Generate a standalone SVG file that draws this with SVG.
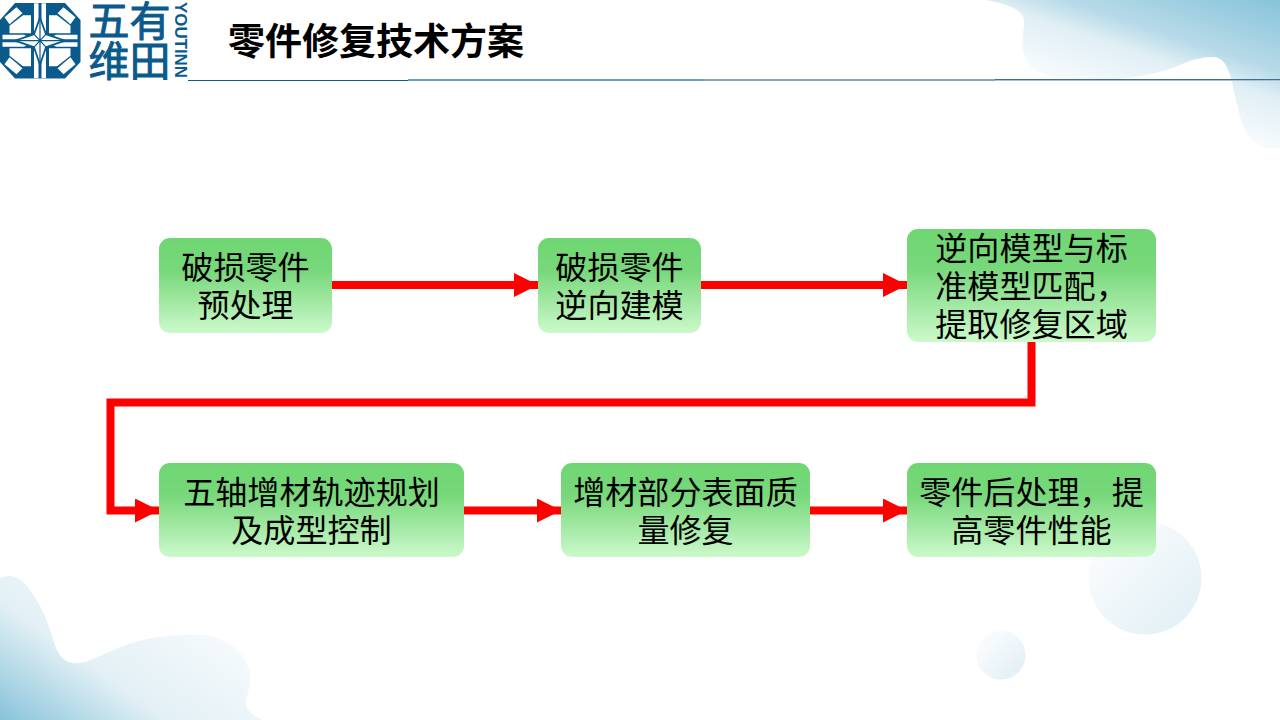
<svg xmlns="http://www.w3.org/2000/svg" xmlns:xlink="http://www.w3.org/1999/xlink" width="1280" height="720" viewBox="0 0 1280 720">
<style>
.t{font-family:"Noto Sans CJK SC","Liberation Sans",sans-serif;font-size:32.100px;fill:#000;text-anchor:middle}
.box{fill:url(#g);}
.c{fill:none;stroke:#f00;stroke-width:8}
.lg{fill:#0b5a8c}
.cj{font-family:"Noto Sans CJK SC",sans-serif;font-size:41px;stroke:#0b5a8c;stroke-width:1}
</style>
<defs>
<linearGradient id="g" x1="0" y1="0" x2="0" y2="1"><stop offset="0" stop-color="#6fd672"/><stop offset=".35" stop-color="#78d87b"/><stop offset="1" stop-color="#ccf9cb"/></linearGradient>
<linearGradient id="tr" gradientUnits="userSpaceOnUse" x1="1280" y1="0" x2="1234" y2="138"><stop offset="0" stop-color="#88c3da"/><stop offset=".48" stop-color="#b8dbe8"/><stop offset=".65" stop-color="#e0eff5"/><stop offset="1" stop-color="#f8fbfd"/></linearGradient>
<linearGradient id="bl" gradientUnits="userSpaceOnUse" x1="0" y1="720" x2="116" y2="556"><stop offset="0" stop-color="#88c3da"/><stop offset=".48" stop-color="#e2f0f5"/><stop offset="1" stop-color="#f6fafc"/></linearGradient>
<linearGradient id="ci" x1="0" y1="0" x2="1" y2="1"><stop offset="0" stop-color="#fff"/><stop offset="1" stop-color="#dfeef4"/></linearGradient>
<marker id="a" markerUnits="userSpaceOnUse" markerWidth="24" markerHeight="24" refX="24" refY="12" orient="auto"><path d="M0,0L24,12L0,24Z" fill="#f00"/></marker>
<g id="q" fill="#fff">
<path d="M-35.500,-23.500L-23.500,-33.500L-17.500,-27.500L-30.500,-16.500Z"/>
<path d="M-17,-25.500H-9V-7.500H-30.500V-15Z"/>
<path d="M-6,-37.500H-1.500V-18L-6,-8Z"/>
<path d="M-37.500,-6H-16L-8,-1.500H-37.500Z"/>
</g>
</defs>
<rect width="1280" height="720" fill="#fff"/>
<path fill="url(#tr)" d="M986,0C1005,4 1022,8 1024,20C1025,30 1020,40 1024,55C1030,75 1060,82 1090,81C1130,80 1165,72 1180,65C1195,58 1205,57 1214,57C1225,58 1229,70 1232,82C1237,105 1240,120 1245,130C1252,145 1268,151 1280,148V0Z"/>
<path fill="url(#bl)" d="M0,578C10,574 20,575 30,590C45,610 50,630 55,645C60,660 68,664 80,663C90,662 110,650 135,642C160,635 185,634 205,635C235,640 250,660 250,678C250,690 245,700 246,705C248,712 255,716 263,720H0Z"/>
<circle cx="1145" cy="578" r="56.500" fill="url(#ci)"/>
<circle cx="1001" cy="655" r="24.500" fill="url(#ci)"/>
<path d="M188,80.500H408" stroke="#0b5a8c" stroke-width="1" fill="none"/>
<path d="M408,80H703" stroke="#6f9dbd" stroke-width="2" fill="none"/>
<path d="M703,80H995" stroke="#7fa6c2" stroke-width="2" fill="none"/>
<path d="M995,79.500H1280" stroke="#3f6f96" stroke-width="1" fill="none"/>
<path d="M995,80.500H1280" stroke="#a9c3d6" stroke-width="1" fill="none"/>
<g id="logo">
<path class="lg" d="M15,3H65L80.500,20V62L65,78.500H15L0,62V20Z"/>
<g transform="translate(40,40.700)">
<use xlink:href="#q" href="#q"/>
<use xlink:href="#q" href="#q" transform="scale(-1,1)"/>
<use xlink:href="#q" href="#q" transform="scale(1,-1)"/>
<use xlink:href="#q" href="#q" transform="scale(-1,-1)"/>
<path d="M0,-23L6,-6.500L25,0L6,6.500L0,24L-6,6.500L-25,0L-6,-6.500Z" fill="#fff" stroke="#0b5a8c" stroke-width="1.800"/>
<path d="M0,-23V24M-25,0H25M-6,-6.500L6,6.500M6,-6.500L-6,6.500" fill="none" stroke="#0b5a8c" stroke-width="1.200"/>
</g>
<text class="lg cj" x="88.500" y="36">五有</text>
<text class="lg cj" x="88.500" y="76">维田</text>
<text class="lg" transform="translate(175,2) rotate(90)" font-family="'Liberation Sans',sans-serif" font-weight="bold" font-size="16" textLength="76" lengthAdjust="spacingAndGlyphs">YOUTINN</text>
</g>
<text id="title" x="228" y="55" font-family="'Noto Sans CJK SC',sans-serif" font-weight="700" font-size="37" fill="#000">零件修复技术方案</text>
<g id="connectors">
<path class="c" marker-end="url(#a)" d="M332,285H538"/>
<path class="c" marker-end="url(#a)" d="M701,285H907"/>
<path class="c" marker-end="url(#a)" d="M1031.500,342V402.500H110.500V510.500H159"/>
<path class="c" marker-end="url(#a)" d="M464,510.500H561"/>
<path class="c" marker-end="url(#a)" d="M810,510.500H907"/>
</g>
<g id="n1"><rect class="box" x="159" y="238" width="173" height="95" rx="11"/><text class="t" x="245.500" y="279">破损零件</text><text class="t" x="245.500" y="317">预处理</text></g>
<g id="n2"><rect class="box" x="538" y="238" width="163" height="95" rx="11"/><text class="t" x="619.500" y="279">破损零件</text><text class="t" x="619.500" y="317">逆向建模</text></g>
<g id="n3"><rect class="box" x="907" y="229" width="249" height="113" rx="11"/><text class="t" x="1031.500" y="260">逆向模型与标</text><text class="t" x="1031.500" y="298">准模型匹配，</text><text class="t" x="1031.500" y="336">提取修复区域</text></g>
<g id="n4"><rect class="box" x="159" y="463" width="305" height="94" rx="11"/><text class="t" x="311.500" y="504">五轴增材轨迹规划</text><text class="t" x="311.500" y="542">及成型控制</text></g>
<g id="n5"><rect class="box" x="561" y="463" width="249" height="94" rx="11"/><text class="t" x="685.500" y="504">增材部分表面质</text><text class="t" x="685.500" y="542">量修复</text></g>
<g id="n6"><rect class="box" x="907" y="463" width="249" height="94" rx="11"/><text class="t" x="1031.500" y="504">零件后处理，提</text><text class="t" x="1031.500" y="542">高零件性能</text></g>
</svg>
